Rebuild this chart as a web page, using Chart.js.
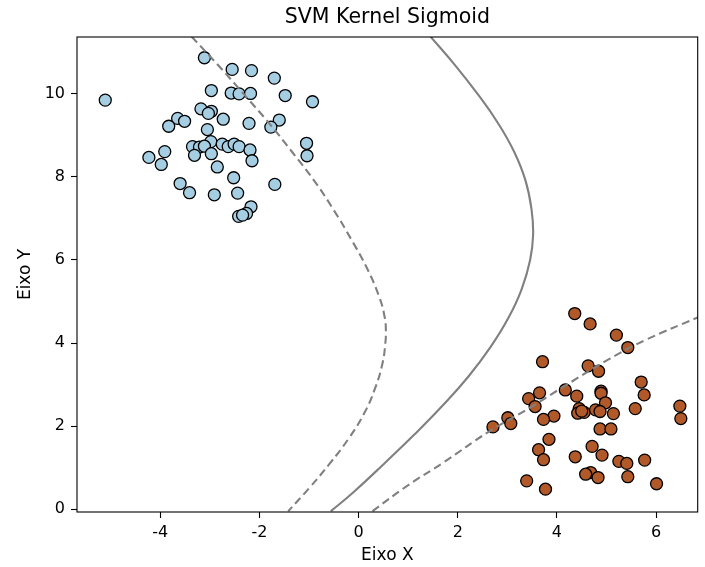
<!DOCTYPE html>
<html>
<head>
<meta charset="utf-8">
<title>SVM Kernel Sigmoid</title>
<script src="https://cdn.jsdelivr.net/npm/chart.js@4.4.1/dist/chart.umd.min.js"></script>
<style>
  body { margin: 0; background: #fff; }
</style>
</head>
<body>
<canvas id="svm" width="705" height="567"></canvas>
<script>
// class 0 (light blue)
const class0X = [-3.11, -2.55, -2.16, -1.70, -2.97, -2.57, -2.41, -2.18, -1.48, -0.93,
  -5.11, -3.18, -2.97, -3.03, -2.73, -3.65, -3.51, -3.83, -2.21, -1.60,
  -1.77, -3.05, -1.05, -1.04, -2.98, -2.75, -2.63, -2.51, -2.41, -3.35,
  -3.21, -3.11, -2.19, -3.31, -2.97, -2.15, -3.91, -4.23, -3.98, -2.85,
  -2.52, -1.69, -3.60, -3.41, -2.91, -2.44, -2.17, -2.26, -2.42, -2.34];
const class0Y = [10.87, 10.59, 10.56, 10.38, 10.08, 10.02, 10.00, 10.01, 9.96, 9.81,
  9.85, 9.64, 9.58, 9.53, 9.39, 9.41, 9.34, 9.22, 9.29, 9.37,
  9.20, 9.14, 8.81, 8.51, 8.85, 8.79, 8.73, 8.79, 8.73, 8.73,
  8.72, 8.74, 8.65, 8.52, 8.56, 8.39, 8.61, 8.47, 8.30, 8.24,
  7.98, 7.82, 7.84, 7.62, 7.57, 7.61, 7.28, 7.12, 7.05, 7.08];

// class 1 (brown)
const class1X = [4.36, 4.67, 5.20, 5.43, 3.71, 4.63, 4.84, 5.70, 5.76, 4.89,
  4.89, 4.17, 4.40, 3.65, 3.43, 3.56, 4.98, 5.58, 6.48, 6.50,
  4.45, 4.42, 4.55, 4.78, 4.87, 5.14, 3.94, 3.73, 3.01, 3.07,
  2.71, 4.87, 5.09, 3.84, 4.71, 3.63, 4.91, 4.37, 3.73, 5.25,
  5.41, 5.77, 4.68, 4.58, 4.83, 5.43, 6.01, 3.39, 3.77, 4.50];
const class1Y = [4.71, 4.46, 4.19, 3.89, 3.55, 3.45, 3.32, 3.06, 2.75, 2.84,
  2.79, 2.87, 2.72, 2.80, 2.66, 2.47, 2.56, 2.42, 2.48, 2.18,
  2.42, 2.31, 2.33, 2.39, 2.35, 2.30, 2.24, 2.16, 2.20, 2.06,
  1.98, 1.93, 1.93, 1.68, 1.51, 1.43, 1.30, 1.26, 1.19, 1.15,
  1.10, 1.18, 0.88, 0.84, 0.76, 0.78, 0.61, 0.68, 0.48, 2.36];

// decision function contours (levels -1, 0, 1)
const levelNegX = [-3.37, -2.84, -2.32, -1.81, -1.34, -0.89, -0.50, -0.15, 0.17, 0.42, 0.53, 0.55, 0.54, 0.48, 0.33, 0.11, -0.20, -0.58, -1.00, -1.42];
const levelNegY = [11.38, 10.70, 10.00, 9.30, 8.60, 7.90, 7.20, 6.50, 5.80, 5.10, 4.60, 4.30, 4.00, 3.50, 2.90, 2.30, 1.70, 1.10, 0.50, -0.05];
const levelZeroX = [1.45, 1.94, 2.40, 2.81, 3.14, 3.37, 3.49, 3.52, 3.46, 3.29, 3.02, 2.66, 2.22, 1.70, 1.13, 0.52, -0.11, -0.56];
const levelZeroY = [11.38, 10.70, 10.00, 9.30, 8.60, 7.90, 7.20, 6.60, 6.00, 5.30, 4.60, 3.90, 3.20, 2.50, 1.80, 1.10, 0.40, -0.05];
const levelPosX = [0.28, 0.98, 1.71, 2.62, 3.40, 4.11, 5.05, 5.80, 6.85];
const levelPosY = [-0.05, 0.56, 1.12, 1.86, 2.40, 2.93, 3.61, 4.08, 4.62];

const xTicks = [-4, -2, 0, 2, 4, 6];
const yTicks = [0, 2, 4, 6, 8, 10];

const pairs = (xs, ys) => xs.map((x, i) => ({x: x, y: ys[i]}));

const fontFamily = "'DejaVu Sans', sans-serif";

function contour(xs, ys, dashed) {
  return {
    data: pairs(xs, ys),
    showLine: true,
    borderColor: '#808080',
    borderWidth: 2.1,
    borderDash: dashed ? [8, 4.5] : [],
    pointRadius: 0,
    tension: 0.45,
    order: 0
  };
}

function points(xs, ys, color) {
  return {
    data: pairs(xs, ys),
    backgroundColor: color,
    borderColor: '#000',
    borderWidth: 1.3,
    pointRadius: 6,
    order: 1
  };
}

// full box around axes + title centred over the axes
const frame = {
  id: 'frame',
  afterDraw(chart) {
    const {ctx, chartArea: a} = chart;
    ctx.save();
    ctx.strokeStyle = '#000';
    ctx.lineWidth = 1.1;
    ctx.strokeRect(a.left, a.top, a.right - a.left, a.bottom - a.top);
    ctx.fillStyle = '#000';
    ctx.font = '20.5px ' + fontFamily;
    ctx.textAlign = 'center';
    ctx.textBaseline = 'middle';
    ctx.fillText('SVM Kernel Sigmoid', (a.left + a.right) / 2, 18);
    ctx.restore();
  }
};

const config = {
  type: 'scatter',
  data: {
    datasets: [
      contour(levelNegX, levelNegY, true),
      contour(levelZeroX, levelZeroY, false),
      contour(levelPosX, levelPosY, true),
      points(class0X, class0Y, '#a6cee3'),
      points(class1X, class1Y, '#b15928')
    ]
  },
  options: {
    responsive: false,
    animation: false,
    layout: { padding: { left: 0, right: 2, top: 37, bottom: 0 } },
    plugins: {
      legend: { display: false },
      tooltip: { enabled: false },
      title: { display: false }
    },
    scales: {
      x: {
        type: 'linear',
        min: -5.68,
        max: 6.84,
        afterFit(scale) { scale.height = 55; },
        afterBuildTicks(scale) { scale.ticks = xTicks.map(v => ({value: v})); },
        grid: { display: true, drawOnChartArea: false, tickLength: 6, tickColor: '#000', tickWidth: 1.1 },
        border: { display: false },
        ticks: { color: '#000', padding: 5, font: { family: fontFamily, size: 16 }, maxRotation: 0 },
        title: { display: true, text: 'Eixo X', color: '#000', padding: { top: 2, bottom: 1.5 }, font: { family: fontFamily, size: 17 } }
      },
      y: {
        type: 'linear',
        min: -0.07,
        max: 11.37,
        afterFit(scale) { scale.width = 77; },
        afterBuildTicks(scale) { scale.ticks = yTicks.map(v => ({value: v})); },
        grid: { display: true, drawOnChartArea: false, tickLength: 6, tickColor: '#000', tickWidth: 1.1 },
        border: { display: false },
        ticks: { color: '#000', padding: 6, font: { family: fontFamily, size: 16 } },
        title: { display: true, text: 'Eixo Y', color: '#000', padding: { top: 15, bottom: 4 }, font: { family: fontFamily, size: 17 } }
      }
    }
  },
  plugins: [frame]
};

const ctx = document.getElementById('svm');
new Chart(ctx, config);
</script>
</body>
</html>
